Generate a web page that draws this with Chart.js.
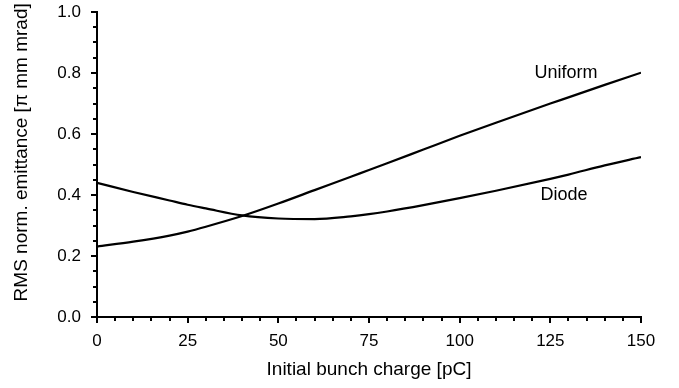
<!DOCTYPE html>
<html>
<head>
<meta charset="utf-8">
<script src="https://cdn.jsdelivr.net/npm/chart.js@4"></script>
<style>
  html, body { margin: 0; padding: 0; background: #fff; }
  #wrap { width: 679px; height: 388px; position: relative; }
</style>
</head>
<body>
<div id="wrap"><canvas id="chart" width="679" height="388"></canvas></div>
<script>
  // bunch charge [pC]
  const charge = [0, 10, 20, 25, 30, 40, 50, 60, 70, 75, 80, 90, 100, 110, 125, 130, 140, 150];
  const uniform = [0.231, 0.247, 0.267, 0.280, 0.296, 0.331, 0.372, 0.416, 0.460, 0.482, 0.504, 0.549, 0.594, 0.637, 0.700, 0.720, 0.761, 0.801];
  const diode = [0.440, 0.410, 0.382, 0.368, 0.356, 0.333, 0.323, 0.321, 0.330, 0.337, 0.346, 0.367, 0.390, 0.414, 0.453, 0.467, 0.497, 0.524];

  const seriesNames = ['Uniform', 'Diode'];
  const labelX = [129.3, 128.8];
  const labelY = [0.80, 0.40];

  const xTicks = [0, 25, 50, 75, 100, 125, 150];
  const yTicks = [0.0, 0.2, 0.4, 0.6, 0.8, 1.0];
  const xMinorStep = 5;
  const yMinorStep = 0.05;
  const yTitle = 'RMS norm. emittance [\u03c0 mm mrad]';

  const FONT = '"Liberation Sans", Arial, sans-serif';

  function toPoints(xs, ys) {
    return xs.map((x, i) => ({ x: x, y: ys[i] }));
  }

  // minor ticks, y title and curve labels, placed through the scales
  const extras = {
    id: 'extras',
    afterDraw(chart) {
      const ctx = chart.ctx;
      const xs = chart.scales.x, ys = chart.scales.y;
      ctx.save();
      ctx.strokeStyle = '#000';
      ctx.lineWidth = 2;
      ctx.beginPath();
      for (let v = xs.min; v <= xs.max + 1e-9; v += xMinorStep) {
        if (xTicks.includes(Math.round(v))) continue;
        const px = Math.round(xs.getPixelForValue(v));
        ctx.moveTo(px, xs.top);
        ctx.lineTo(px, xs.top + 4);
      }
      for (let v = ys.min; v <= ys.max + 1e-9; v += yMinorStep) {
        const r = Math.round(v * 100) / 100;
        if (yTicks.some(t => Math.abs(t - r) < 1e-6)) continue;
        const py = Math.round(ys.getPixelForValue(r));
        ctx.moveTo(ys.right, py);
        ctx.lineTo(ys.right - 4, py);
      }
      ctx.stroke();

      ctx.fillStyle = '#000';
      ctx.textAlign = 'center';
      ctx.textBaseline = 'middle';
      ctx.font = '18px ' + FONT;
      seriesNames.forEach((name, i) => {
        ctx.fillText(name, xs.getPixelForValue(labelX[i]), ys.getPixelForValue(labelY[i]));
      });

      // y-axis title sits a bit above the middle of the axis in the original
      ctx.font = '19px ' + FONT;
      ctx.translate(ys.left + 12, ys.getPixelForValue(0.54));
      ctx.rotate(-Math.PI / 2);
      ctx.fillText(yTitle, 0, 0);
      ctx.restore();
    }
  };

  new Chart(document.getElementById('chart'), {
    type: 'line',
    data: {
      datasets: [
        { label: 'Uniform', data: toPoints(charge, uniform) },
        { label: 'Diode', data: toPoints(charge, diode) }
      ]
    },
    options: {
      responsive: false,
      animation: false,
      layout: { padding: { left: 10, right: 38, top: 12, bottom: 0 } },
      elements: {
        point: { radius: 0 },
        line: { borderColor: '#000', borderWidth: 2.2, cubicInterpolationMode: 'monotone', fill: false }
      },
      plugins: { legend: { display: false }, tooltip: { enabled: false } },
      scales: {
        x: {
          type: 'linear',
          min: 0, max: 150,
          afterBuildTicks: s => { s.ticks = xTicks.map(v => ({ value: v })); },
          afterFit: s => { s.height = 71; },
          border: { color: '#000', width: 2 },
          grid: { drawOnChartArea: false, color: '#000', lineWidth: 2, tickLength: 6 },
          ticks: { color: '#000', font: { family: FONT, size: 17 }, padding: 8, maxRotation: 0 },
          title: {
            display: true, text: 'Initial bunch charge [pC]', color: '#000',
            font: { family: FONT, size: 19 }, padding: { top: 0, bottom: 7 }
          }
        },
        y: {
          min: 0, max: 1,
          afterBuildTicks: s => { s.ticks = yTicks.map(v => ({ value: v })); },
          afterFit: s => { s.width = 87; s.paddingTop = 0; s.paddingBottom = 0; },
          border: { color: '#000', width: 2 },
          grid: { drawOnChartArea: false, color: '#000', lineWidth: 2, tickLength: 6 },
          ticks: { color: '#000', font: { family: FONT, size: 17 }, padding: 10, callback: v => v.toFixed(1) }
        }
      }
    },
    plugins: [extras]
  });
</script>
</body>
</html>
